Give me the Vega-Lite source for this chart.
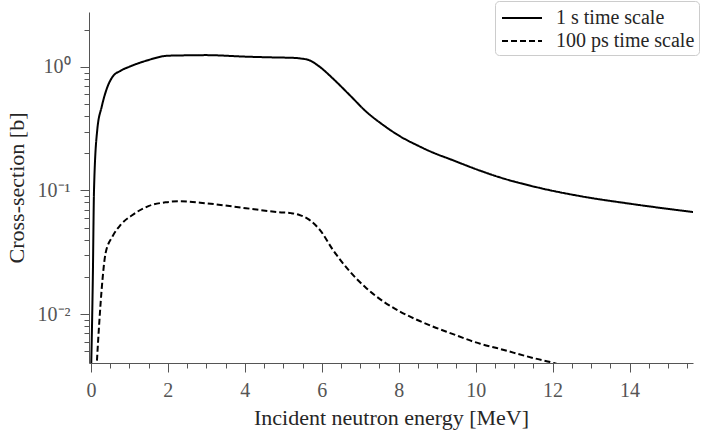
{
  "$schema": "https://vega.github.io/schema/vega-lite/v6.json",
  "width": 604,
  "height": 351,
  "autosize": {"type": "none"},
  "padding": {"left": 89, "top": 12, "right": 13, "bottom": 69},
  "background": "white",
  "config": {
    "view": {"stroke": null},
    "font": "Liberation Serif",
    "axis": {
      "grid": false,
      "domainColor": "#555555",
      "tickColor": "#555555",
      "labelColor": "#555555",
      "titleColor": "#262626",
      "labelFont": "Liberation Serif",
      "titleFont": "Liberation Serif",
      "labelFontSize": 20,
      "titleFontSize": 22,
      "titleFontWeight": "normal"
    }
  },
  "data": {
    "values": [
      {"E": 0.0, "xs": 0.003, "series": "1 s time scale"},
      {"E": 0.05, "xs": 0.02, "series": "1 s time scale"},
      {"E": 0.08, "xs": 0.1, "series": "1 s time scale"},
      {"E": 0.165, "xs": 0.31, "series": "1 s time scale"},
      {"E": 0.28, "xs": 0.475, "series": "1 s time scale"},
      {"E": 0.43, "xs": 0.69, "series": "1 s time scale"},
      {"E": 0.56, "xs": 0.83, "series": "1 s time scale"},
      {"E": 0.77, "xs": 0.93, "series": "1 s time scale"},
      {"E": 0.99, "xs": 1.0, "series": "1 s time scale"},
      {"E": 1.43, "xs": 1.12, "series": "1 s time scale"},
      {"E": 1.99, "xs": 1.23, "series": "1 s time scale"},
      {"E": 2.47, "xs": 1.24, "series": "1 s time scale"},
      {"E": 2.99, "xs": 1.245, "series": "1 s time scale"},
      {"E": 4.03, "xs": 1.21, "series": "1 s time scale"},
      {"E": 4.9, "xs": 1.19, "series": "1 s time scale"},
      {"E": 5.2, "xs": 1.185, "series": "1 s time scale"},
      {"E": 5.45, "xs": 1.17, "series": "1 s time scale"},
      {"E": 5.68, "xs": 1.13, "series": "1 s time scale"},
      {"E": 5.95, "xs": 1.0, "series": "1 s time scale"},
      {"E": 6.29, "xs": 0.805, "series": "1 s time scale"},
      {"E": 6.73, "xs": 0.59, "series": "1 s time scale"},
      {"E": 7.16, "xs": 0.433, "series": "1 s time scale"},
      {"E": 7.6, "xs": 0.338, "series": "1 s time scale"},
      {"E": 8.03, "xs": 0.275, "series": "1 s time scale"},
      {"E": 8.47, "xs": 0.233, "series": "1 s time scale"},
      {"E": 8.9, "xs": 0.202, "series": "1 s time scale"},
      {"E": 9.34, "xs": 0.179, "series": "1 s time scale"},
      {"E": 10.12, "xs": 0.1445, "series": "1 s time scale"},
      {"E": 10.55, "xs": 0.13, "series": "1 s time scale"},
      {"E": 11.6, "xs": 0.106, "series": "1 s time scale"},
      {"E": 12.72, "xs": 0.09, "series": "1 s time scale"},
      {"E": 14.03, "xs": 0.078, "series": "1 s time scale"},
      {"E": 15.68, "xs": 0.0667, "series": "1 s time scale"},
      {"E": 0.13, "xs": 0.003, "series": "100 ps time scale"},
      {"E": 0.21, "xs": 0.0079, "series": "100 ps time scale"},
      {"E": 0.3, "xs": 0.0189, "series": "100 ps time scale"},
      {"E": 0.38, "xs": 0.031, "series": "100 ps time scale"},
      {"E": 0.56, "xs": 0.0424, "series": "100 ps time scale"},
      {"E": 0.77, "xs": 0.0526, "series": "100 ps time scale"},
      {"E": 1.08, "xs": 0.0634, "series": "100 ps time scale"},
      {"E": 1.51, "xs": 0.075, "series": "100 ps time scale"},
      {"E": 1.95, "xs": 0.0803, "series": "100 ps time scale"},
      {"E": 2.29, "xs": 0.0818, "series": "100 ps time scale"},
      {"E": 2.99, "xs": 0.0788, "series": "100 ps time scale"},
      {"E": 4.03, "xs": 0.0719, "series": "100 ps time scale"},
      {"E": 4.9, "xs": 0.0667, "series": "100 ps time scale"},
      {"E": 5.2, "xs": 0.0656, "series": "100 ps time scale"},
      {"E": 5.42, "xs": 0.0634, "series": "100 ps time scale"},
      {"E": 5.68, "xs": 0.0578, "series": "100 ps time scale"},
      {"E": 5.95, "xs": 0.048, "series": "100 ps time scale"},
      {"E": 6.29, "xs": 0.0331, "series": "100 ps time scale"},
      {"E": 6.73, "xs": 0.0221, "series": "100 ps time scale"},
      {"E": 7.16, "xs": 0.0162, "series": "100 ps time scale"},
      {"E": 7.6, "xs": 0.01265, "series": "100 ps time scale"},
      {"E": 8.03, "xs": 0.0105, "series": "100 ps time scale"},
      {"E": 8.47, "xs": 0.009, "series": "100 ps time scale"},
      {"E": 8.9, "xs": 0.0079, "series": "100 ps time scale"},
      {"E": 9.34, "xs": 0.00702, "series": "100 ps time scale"},
      {"E": 10.12, "xs": 0.00575, "series": "100 ps time scale"},
      {"E": 10.55, "xs": 0.00531, "series": "100 ps time scale"},
      {"E": 11.51, "xs": 0.0044, "series": "100 ps time scale"},
      {"E": 12.03, "xs": 0.00402, "series": "100 ps time scale"},
      {"E": 12.5, "xs": 0.0036, "series": "100 ps time scale"}
    ]
  },
  "mark": {"type": "line", "clip": true, "strokeWidth": 2, "color": "black", "interpolate": "monotone"},
  "encoding": {
    "x": {
      "field": "E",
      "type": "quantitative",
      "scale": {"domain": [-0.05, 15.65], "nice": false, "zero": false},
      "axis": {
        "title": "Incident neutron energy [MeV]",
        "values": [0, 0.5, 1, 1.5, 2, 2.5, 3, 3.5, 4, 4.5, 5, 5.5, 6, 6.5, 7, 7.5, 8, 8.5, 9, 9.5, 10, 10.5, 11, 11.5, 12, 12.5, 13, 13.5, 14, 14.5, 15, 15.5],
        "format": "~g",
        "labelExpr": "datum.value % 2 == 0 ? datum.label : ''",
        "tickSize": {"condition": {"test": "datum.value % 2 == 0", "value": 9}, "value": 5},
        "labelPadding": 8,
        "titlePadding": 7,
        "labelFlush": false,
        "labelOverlap": false
      }
    },
    "y": {
      "field": "xs",
      "type": "quantitative",
      "scale": {"type": "log", "domain": [0.00402, 2.78], "nice": false},
      "axis": {
        "title": "Cross-section [b]",
        "values": [0.005, 0.006, 0.007, 0.008, 0.009, 0.01, 0.02, 0.03, 0.04, 0.05, 0.06, 0.07, 0.08, 0.09, 0.1, 0.2, 0.3, 0.4, 0.5, 0.6, 0.7, 0.8, 0.9, 1, 2],
        "labelExpr": "datum.value == 1 ? '10⁰' : datum.value == 0.1 ? '10⁻¹' : datum.value == 0.01 ? '10⁻²' : ''",
        "tickSize": {"condition": {"test": "datum.value == 1 || datum.value == 0.1 || datum.value == 0.01", "value": 9}, "value": 5},
        "labelPadding": 10,
        "titlePadding": 9,
        "labelOverlap": false
      }
    },
    "strokeDash": {
      "field": "series",
      "type": "nominal",
      "scale": {"domain": ["1 s time scale", "100 ps time scale"], "range": [[1, 0], [6, 3]]},
      "legend": {
        "title": null,
        "orient": "none",
        "legendX": 406,
        "legendY": -11,
        "padding": 4,
        "symbolType": "M-0.833,0H2.5",
        "symbolSize": 576,
        "symbolStrokeWidth": 2,
        "symbolStrokeColor": "black",
        "labelFont": "Liberation Serif",
        "labelFontSize": 20,
        "labelColor": "#262626",
        "labelOffset": 31,
        "labelLimit": 300,
        "rowPadding": 0,
        "fillColor": "rgba(255,255,255,0.8)",
        "strokeColor": "#cccccc",
        "cornerRadius": 4
      }
    }
  }
}
